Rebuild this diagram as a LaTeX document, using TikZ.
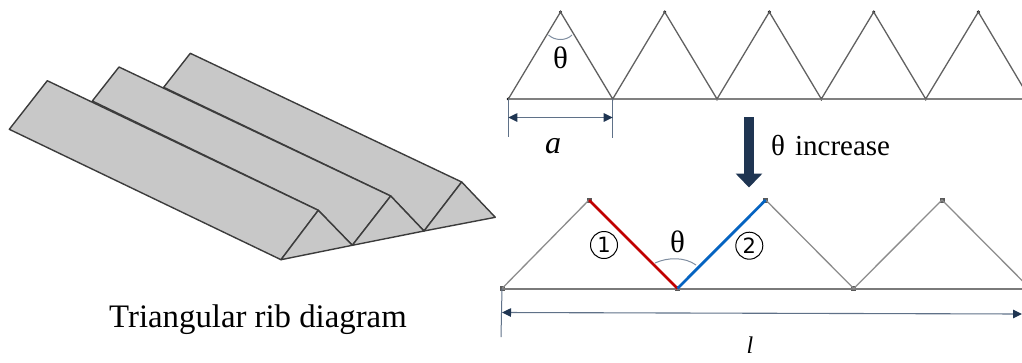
\documentclass[tikz,border=0pt]{standalone}
\usepackage{fontspec}
\setmainfont{Liberation Serif}
\newfontfamily\symfont{DejaVu Sans}
\usetikzlibrary{arrows.meta}
\definecolor{ribfill}{HTML}{C8C8C8}
\definecolor{ribedge}{HTML}{3C3C3C}
\definecolor{navy}{HTML}{1F3552}
\definecolor{dimline}{HTML}{5F7188}
\definecolor{redrib}{HTML}{C00000}
\definecolor{bluerib}{HTML}{0563C1}
\tikzset{
  x=1pt,y=-1pt,
  ribface/.style={fill=ribfill,draw=ribedge,line width=1.4pt,line join=round},
  topline/.style={draw=black!62,line width=1.3pt},
  topbase/.style={draw=black!50,line width=1.7pt},
  botline/.style={draw=black!45,line width=1.3pt},
  botbase/.style={draw=black!52,line width=2pt},
  topdot/.style={circle,fill=black,inner sep=0pt,minimum size=3.4pt},
  botdot/.style={rectangle,fill=black!65,inner sep=0pt,minimum size=5pt},
  dimension/.style={draw=dimline,line width=1pt},
  dimarrow/.style={draw=dimline,line width=1.1pt,{Triangle[length=9pt,width=8.5pt,fill=navy,color=navy]}-{Triangle[length=9pt,width=8.5pt,fill=navy,color=navy]}},
  anglearc/.style={draw=dimline!80,line width=1pt},
  lbl/.style={inner sep=0pt,text=black},
  circlelbl/.style={circle,draw=black,line width=1pt,minimum size=27pt,inner sep=0pt,text=black,font={\symfont\fontsize{21}{23}\selectfont}}
}
\begin{document}
\begin{tikzpicture}
\useasboundingbox (0,0) rectangle (1022,362);
\clip (0,0) rectangle (1022,362);

% ---- ribbed plate
\coordinate (r3a) at (190.3,53.3);
\coordinate (r3b) at (461.7,182);
\coordinate (r3c) at (495.3,217.3);
\coordinate (r3v) at (163.7,87.3);
\coordinate (r2a) at (119,67);
\coordinate (r2b) at (390.7,196);
\coordinate (r2c) at (424,231);
\coordinate (r2v) at (92.3,101);
\coordinate (r1a) at (47.3,80.7);
\coordinate (r1b) at (318.3,210.3);
\coordinate (r1c) at (352.3,245.3);
\coordinate (r1l) at (9.3,129.3);
\coordinate (r1d) at (281,259.7);

\draw[ribface] (r3v) -- (r3a) -- (r3b) -- (r2c) -- (r2b) -- cycle;
\draw[ribface] (r3b) -- (r3c) -- (r2c) -- cycle;
\draw[ribface] (r2v) -- (r2a) -- (r2b) -- (r1c) -- (r1b) -- cycle;
\draw[ribface] (r2b) -- (r2c) -- (r1c) -- cycle;
\draw[ribface] (r1l) -- (r1a) -- (r1b) -- (r1d) -- cycle;
\draw[ribface] (r1b) -- (r1c) -- (r1d) -- cycle;

\node[lbl,font=\fontsize{32.8}{36}\selectfont] (caption) at (258,320) {Triangular rib diagram};

% ---- upper profile
\foreach \n/\x in {1/508.3,2/612.7,3/717,4/821.3,5/925.7,6/1030}
  \node[topdot] (tb\n) at (\x,99) {};
\foreach \n/\x in {1/560.5,2/664.7,3/769.3,4/873.7,5/978.3}
  \node[topdot] (ta\n) at (\x,12) {};
\draw[topbase] (tb1.center) -- (tb6.center);
\foreach \n/\m in {1/2,2/3,3/4,4/5,5/6}{
  \draw[topline] (tb\n.center) -- (ta\n.center) -- (tb\m.center);
}
\draw[anglearc] (548.5,35) .. controls (555,41) and (566,41) .. (572,35);
\node[lbl,font=\fontsize{31}{33}\selectfont] (th1) at (560.5,58) {θ};

% dimension a
\coordinate (ad1) at (508.3,137);
\coordinate (ad2) at (612.7,138);
\draw[dimension] (tb1.center) -- (ad1);
\draw[dimension] (tb2.center) -- (ad2);
\coordinate (aa1) at (508.3,117.5);
\coordinate (aa2) at (612.7,117.5);
\draw[dimarrow] (aa1) -- (aa2);
\node[lbl,font=\fontsize{32}{34}\selectfont\itshape] (alab) at (553,146.5) {a};

% big arrow
\coordinate (ba1) at (749,117);
\coordinate (ba2) at (749,187.5);
\draw[navy,line width=9.5pt,-{Triangle[length=14pt,width=26pt]}] (ba1) -- (ba2);
\node[lbl,font=\fontsize{29}{32}\selectfont,anchor=west] (inc) at (771,145.5) {θ\hspace{10pt}increase};

% ---- lower profile
\foreach \n/\x in {1/502,2/677.5,3/853.7,4/1030}
  \node[botdot] (bb\n) at (\x,288.5) {};
\foreach \n/\x in {1/589,2/765.7,3/942}
  \node[botdot] (ba\n) at (\x,200) {};
\draw[botbase] (bb1.center) -- (bb4.center);
\draw[botline] (bb1.center) -- (ba1.center);
\draw[botline] (ba2.center) -- (bb3.center) -- (ba3.center) -- (bb4.center);
\draw[redrib,line width=2.8pt] (ba1.center) -- (bb2.center);
\draw[bluerib,line width=2.8pt] (bb2.center) -- (ba2.center);
\draw[anglearc] (655,263) .. controls (668,257) and (685,257) .. (696,265);
\node[lbl,font=\fontsize{31}{33}\selectfont] (th2) at (677.5,241.5) {θ};
\node[circlelbl] (c1) at (604,245) {1};
\node[circlelbl] (c2) at (749.3,245.7) {2};

% dimension l
\coordinate (ld1) at (501,337);
\draw[dimension] (bb1.center) -- (ld1);
\coordinate (la1) at (502,312.5);
\coordinate (la2) at (1022,314);
\draw[dimarrow] (la1) -- (la2);
\node[lbl,anchor=north,font=\fontsize{24}{24}\selectfont\itshape] (llab) at (750,337) {l};
\end{tikzpicture}
\end{document}
